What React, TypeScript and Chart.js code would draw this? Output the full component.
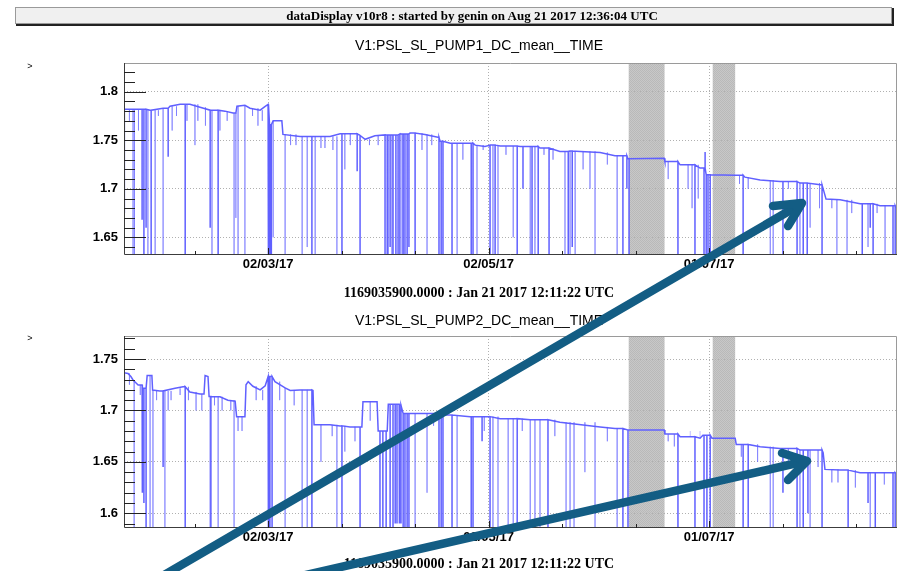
import React, { useEffect, useRef } from 'react';
import { Chart, registerables } from 'chart.js';

Chart.register(...registerables);

// ---- shared time axis: days after Jan 21 2017 12:11:22 UTC ----
const dayRange = [0, 213.5];
const timeTickDays = [19.5, 39.8, 60.1, 80.4, 100.7, 121.0, 141.3, 161.6, 181.9, 202.2];
const timeTickLabels = ['', '02/03/17', '', '', '02/05/17', '', '', '01/07/17', '', ''];

// shaded periods with no data
const offlineStart = [139.4, 162.6];
const offlineEnd = [149.3, 168.8];

// ---- V1:PSL_SL_PUMP1_DC_mean ----
const pump1Range = [1.6318, 1.8296];
const pump1YLabels = ['1.65', '1.7', '1.75', '1.8'];
const pump1Days = [0.0, 2.5, 7.2, 10.8, 12.7, 15.5, 18.2, 21.0, 23.8, 27.9, 30.1, 30.9, 31.2, 33.4, 34.8, 37.6, 39.0, 39.8, 40.2, 41.2, 43.6, 43.9, 48.6, 51.4, 56.9, 59.7, 63.8, 65.2, 66.6, 69.3, 72.1, 76.2, 79.0, 83.1, 86.7, 87.3, 90.1, 94.2, 97.0, 99.7, 101.1, 103.9, 109.4, 114.9, 120.4, 123.2, 126.0, 131.5, 135.6, 139.2, 149.2, 149.4, 153.6, 159.1, 160.2, 160.8, 168.8, 171.5, 175.7, 181.2, 186.7, 192.8, 193.9, 197.8, 203.3, 208.8, 213.3];
const pump1Level = [1.782, 1.782, 1.781, 1.783, 1.785, 1.787, 1.787, 1.784, 1.781, 1.780, 1.778, 1.778, 1.785, 1.786, 1.783, 1.781, 1.785, 1.787, 1.766, 1.770, 1.770, 1.756, 1.754, 1.754, 1.754, 1.7567, 1.7567, 1.755, 1.751, 1.7546, 1.7555, 1.7565, 1.7574, 1.756, 1.753, 1.749, 1.747, 1.747, 1.745, 1.7436, 1.745, 1.744, 1.7436, 1.742, 1.7385, 1.739, 1.7385, 1.7374, 1.734, 1.731, 1.7315, 1.728, 1.7247, 1.7213, 1.7213, 1.7144, 1.714, 1.712, 1.709, 1.7075, 1.7059, 1.704, 1.6894, 1.6886, 1.6845, 1.6825, 1.680];
const pump1DropDays = [0.1, 5.0, 5.5, 6.1, 7.5, 12.2, 16.9, 23.8, 26.0, 39.9, 40.3, 40.7, 51.9, 60.2, 64.4, 65.2, 72.1, 72.7, 73.5, 74.3, 75.1, 75.7, 76.2, 77.1, 77.6, 78.2, 78.7, 80.4, 87.0, 87.6, 88.1, 90.6, 95.9, 96.4, 101.1, 102.5, 108.6, 110.2, 112.7, 114.4, 117.4, 122.7, 123.8, 137.8, 138.9, 139.5, 153.0, 157.7, 160.2, 160.5, 160.8, 161.3, 161.9, 171.0, 182.0, 185.9, 187.6, 188.7, 192.8, 203.9, 206.1, 206.9, 212.4, 213.0];
const pump1DropLow = [1.675, 1.668, 1.60, 1.66, 1.60, 1.733, 1.60, 1.66, 1.60, 1.60, 1.60, 1.60, 1.60, 1.60, 1.718, 1.60, 1.60, 1.60, 1.64, 1.60, 1.60, 1.60, 1.60, 1.60, 1.60, 1.60, 1.64, 1.60, 1.60, 1.60, 1.62, 1.60, 1.60, 1.60, 1.60, 1.60, 1.60, 1.70, 1.60, 1.60, 1.60, 1.60, 1.64, 1.60, 1.70, 1.60, 1.60, 1.60, 1.60, 1.738, 1.60, 1.60, 1.60, 1.60, 1.60, 1.60, 1.60, 1.60, 1.60, 1.60, 1.66, 1.60, 1.60, 1.60];
const pump1FaintDays = [1.5, 2.5, 2.9, 4.0, 6.6, 8.6, 9.5, 10.8, 13.3, 14.5, 17.4, 19.6, 20.4, 22.5, 24.3, 26.5, 28.5, 30.4, 30.9, 31.5, 33.4, 35.5, 37.0, 38.2, 41.2, 44.5, 46.0, 47.5, 49.2, 50.6, 52.8, 54.4, 55.5, 57.7, 58.8, 61.0, 62.5, 67.8, 70.2, 73.0, 74.0, 76.8, 82.3, 83.7, 85.0, 92.0, 93.6, 97.5, 99.2, 101.9, 103.3, 105.5, 107.5, 112.2, 113.5, 116.0, 118.5, 121.8, 123.2, 124.6, 126.8, 128.7, 130.1, 133.5, 136.2, 150.3, 155.8, 156.9, 158.6, 170.0, 172.4, 178.5, 179.3, 183.5, 186.7, 189.5, 192.1, 195.5, 196.9, 199.7, 201.0, 205.5, 208.0, 210.2];
const pump1FaintLow = [1.77, 1.60, 1.60, 1.76, 1.60, 1.60, 1.775, 1.60, 1.76, 1.775, 1.77, 1.745, 1.77, 1.765, 1.60, 1.76, 1.77, 1.60, 1.67, 1.60, 1.60, 1.775, 1.765, 1.77, 1.65, 1.60, 1.745, 1.745, 1.60, 1.64, 1.60, 1.742, 1.742, 1.74, 1.60, 1.72, 1.745, 1.745, 1.745, 1.60, 1.60, 1.60, 1.74, 1.60, 1.745, 1.60, 1.73, 1.62, 1.74, 1.60, 1.60, 1.735, 1.65, 1.60, 1.60, 1.735, 1.73, 1.60, 1.62, 1.60, 1.72, 1.70, 1.60, 1.725, 1.60, 1.71, 1.70, 1.68, 1.69, 1.705, 1.70, 1.60, 1.60, 1.70, 1.60, 1.66, 1.68, 1.68, 1.60, 1.62, 1.675, 1.64, 1.675, 1.60];

// ---- V1:PSL_SL_PUMP2_DC_mean ----
const pump2Range = [1.5857, 1.7724];
const pump2YLabels = ['1.6', '1.65', '1.7', '1.75'];
const pump2Days = [0.0, 1.1, 1.9, 2.5, 3.9, 5.2, 6.1, 6.4, 7.7, 7.9, 9.9, 14.1, 16.3, 18.2, 21.0, 22.1, 22.4, 23.2, 23.5, 26.5, 28.7, 30.7, 31.1, 33.4, 33.7, 34.3, 35.6, 37.6, 39.0, 39.8, 41.7, 44.5, 45.9, 48.6, 52.2, 52.5, 56.9, 59.7, 62.4, 65.7, 66.0, 69.9, 70.2, 72.7, 73.0, 76.2, 77.1, 87.3, 95.6, 103.9, 112.2, 120.4, 131.5, 135.6, 139.2, 149.2, 149.4, 153.6, 159.1, 159.9, 162.4, 168.8, 169.1, 175.7, 181.2, 186.7, 193.1, 193.6, 197.8, 203.3, 213.3];
const pump2Level = [1.7367, 1.736, 1.733, 1.7296, 1.7247, 1.7215, 1.7215, 1.734, 1.734, 1.7198, 1.719, 1.7215, 1.723, 1.718, 1.716, 1.716, 1.734, 1.733, 1.7135, 1.7133, 1.710, 1.709, 1.694, 1.694, 1.725, 1.728, 1.7235, 1.720, 1.724, 1.733, 1.728, 1.722, 1.7195, 1.720, 1.7195, 1.686, 1.686, 1.685, 1.684, 1.684, 1.7085, 1.7085, 1.680, 1.680, 1.706, 1.705, 1.697, 1.6955, 1.694, 1.692, 1.691, 1.6885, 1.684, 1.6825, 1.681, 1.681, 1.677, 1.6744, 1.673, 1.676, 1.673, 1.673, 1.667, 1.6647, 1.6631, 1.6615, 1.659, 1.6427, 1.642, 1.6394, 1.638];
const pump2DropDays = [0.1, 5.0, 5.5, 6.1, 10.8, 16.9, 24.0, 39.9, 40.3, 40.9, 51.9, 60.2, 65.2, 70.7, 71.5, 72.4, 73.5, 74.3, 74.9, 75.4, 76.0, 76.5, 77.1, 77.6, 78.2, 78.7, 87.0, 87.6, 88.1, 90.6, 95.9, 96.4, 98.9, 101.1, 108.6, 117.1, 137.8, 139.2, 153.0, 157.7, 160.2, 161.0, 161.9, 171.0, 172.4, 182.0, 185.9, 187.6, 188.9, 192.8, 200.0, 205.5, 207.5, 212.4, 213.0];
const pump2DropLow = [1.632, 1.62, 1.61, 1.55, 1.645, 1.55, 1.55, 1.55, 1.55, 1.55, 1.55, 1.55, 1.55, 1.55, 1.55, 1.55, 1.55, 1.55, 1.59, 1.59, 1.59, 1.59, 1.55, 1.55, 1.55, 1.55, 1.55, 1.55, 1.55, 1.55, 1.55, 1.55, 1.67, 1.55, 1.55, 1.55, 1.55, 1.55, 1.55, 1.55, 1.55, 1.55, 1.55, 1.55, 1.55, 1.62, 1.55, 1.55, 1.60, 1.55, 1.55, 1.61, 1.55, 1.55, 1.55];
const pump2FaintDays = [1.5, 2.8, 4.5, 7.2, 8.0, 9.0, 11.3, 12.2, 13.0, 15.5, 17.8, 19.9, 21.5, 23.8, 25.0, 26.0, 27.1, 29.5, 30.4, 31.5, 32.6, 36.5, 38.3, 43.0, 44.5, 47.0, 49.2, 50.6, 54.4, 57.5, 58.8, 61.0, 63.8, 68.0, 80.4, 83.7, 85.5, 92.0, 99.5, 101.9, 103.3, 106.1, 107.5, 110.0, 112.2, 113.5, 114.9, 119.0, 122.1, 123.2, 124.3, 127.3, 130.1, 133.5, 136.2, 150.3, 152.0, 156.4, 159.1, 170.5, 175.0, 178.5, 179.3, 183.5, 186.7, 189.5, 191.7, 195.5, 197.2, 202.0, 206.1, 210.0];
const pump2FaintLow = [1.725, 1.55, 1.715, 1.55, 1.55, 1.71, 1.55, 1.70, 1.71, 1.715, 1.71, 1.70, 1.70, 1.55, 1.705, 1.55, 1.70, 1.70, 1.55, 1.68, 1.68, 1.71, 1.71, 1.71, 1.55, 1.705, 1.55, 1.55, 1.65, 1.675, 1.55, 1.66, 1.67, 1.69, 1.55, 1.62, 1.685, 1.55, 1.68, 1.55, 1.55, 1.55, 1.55, 1.68, 1.55, 1.55, 1.55, 1.675, 1.55, 1.55, 1.55, 1.64, 1.55, 1.67, 1.55, 1.67, 1.665, 1.68, 1.68, 1.655, 1.65, 1.55, 1.55, 1.65, 1.55, 1.55, 1.645, 1.63, 1.63, 1.625, 1.55, 1.628];

const LINE = 'rgb(96,96,255)';
const LINE_FAINT = 'rgba(96,96,255,0.4)';
const SANS = '"Liberation Sans", Arial, sans-serif';
const SERIF = '"Liberation Serif", "Times New Roman", serif';

type Pt = { x: number; y: number | null };

// level of the most recent reading at or before day d
function levelAt(days: number[], vals: number[], d: number) {
  let v = vals[0];
  for (let i = 0; i < days.length && days[i] <= d; i++) v = vals[i];
  return v;
}

// trend line with the dropouts drawn as vertical excursions from the current level
function mainSeries(days: number[], vals: number[], dDays: number[], dLow: number[]): Pt[] {
  const events = [
    ...days.map((d, i) => ({ d, k: 0, i })),
    ...dDays.map((d, i) => ({ d, k: 1, i })),
  ].sort((a, b) => a.d - b.d || a.k - b.k);
  const pts: Pt[] = [];
  for (const e of events) {
    if (e.k === 0) pts.push({ x: e.d, y: vals[e.i] });
    else {
      const lv = levelAt(days, vals, e.d);
      pts.push({ x: e.d, y: lv }, { x: e.d, y: dLow[e.i] }, { x: e.d, y: lv });
    }
  }
  return pts;
}

function faintSeries(days: number[], vals: number[], fDays: number[], fLow: number[]): Pt[] {
  const pts: Pt[] = [];
  fDays.forEach((d, i) => {
    const lv = levelAt(days, vals, d);
    pts.push({ x: d, y: lv }, { x: d, y: fLow[i] }, { x: d, y: null });
  });
  return pts;
}

function yTickValues(lo: number, hi: number) {
  const out: number[] = [];
  for (let k = Math.ceil(lo * 100 - 1e-6); k <= Math.floor(hi * 100 + 1e-6); k++) out.push(k / 100);
  return out;
}

let hatchCache: CanvasPattern | null = null;
function hatch(ctx: CanvasRenderingContext2D) {
  if (!hatchCache) {
    const c = document.createElement('canvas');
    c.width = 2;
    c.height = 2;
    const g = c.getContext('2d')!;
    g.fillStyle = '#c8c8c8';
    g.fillRect(0, 0, 2, 2);
    g.fillStyle = '#b9b9b9';
    g.fillRect(0, 0, 1, 1);
    g.fillRect(1, 1, 1, 1);
    hatchCache = ctx.createPattern(c, 'repeat');
  }
  return hatchCache!;
}

const isMajor = (v: number, majors: number[]) => majors.some((m) => Math.abs(m - v) < 1e-6);

const rootFrame = {
  id: 'rootFrame',
  beforeDraw(chart: any) {
    const { ctx, chartArea: a } = chart;
    const x = chart.scales.x;
    ctx.save();
    ctx.fillStyle = hatch(ctx);
    offlineStart.forEach((s, i) => {
      const x0 = x.getPixelForValue(s);
      const x1 = x.getPixelForValue(offlineEnd[i]);
      ctx.fillRect(x0, a.top, x1 - x0, a.bottom - a.top);
    });
    ctx.restore();
  },
  afterDatasetsDraw(chart: any, _args: any, opts: any) {
    const { ctx, chartArea: a } = chart;
    const { x, y } = chart.scales;
    const majors: number[] = opts.yMajor;
    ctx.save();
    ctx.lineWidth = 1;
    ctx.strokeStyle = '#9a9a9a';
    ctx.beginPath();
    ctx.moveTo(a.left, a.top + 0.5);
    ctx.lineTo(a.right - 0.5, a.top + 0.5);
    ctx.lineTo(a.right - 0.5, a.bottom);
    ctx.stroke();
    ctx.strokeStyle = '#3c3c3c';
    ctx.beginPath();
    ctx.moveTo(a.left + 0.5, a.top);
    ctx.lineTo(a.left + 0.5, a.bottom - 0.5);
    ctx.lineTo(a.right, a.bottom - 0.5);
    ctx.stroke();
    ctx.strokeStyle = '#222';
    ctx.beginPath();
    y.ticks.forEach((t: any) => {
      const py = Math.round(y.getPixelForValue(t.value)) + 0.5;
      const len = isMajor(t.value, majors) ? 22 : 11;
      ctx.moveTo(a.left, py);
      ctx.lineTo(a.left + len, py);
    });
    x.ticks.forEach((t: any, i: number) => {
      const px = Math.round(x.getPixelForValue(t.value)) + 0.5;
      const len = timeTickLabels[i] ? 7 : 4;
      ctx.moveTo(px, a.bottom);
      ctx.lineTo(px, a.bottom - len);
    });
    ctx.stroke();
    ctx.restore();
  },
};

type PanelProps = {
  top: number;
  height: number;
  padTop: number;
  xAxisH: number;
  range: number[];
  yLabels: string[];
  days: number[];
  level: number[];
  dropDays: number[];
  dropLow: number[];
  faintDays: number[];
  faintLow: number[];
};

function Panel(p: PanelProps) {
  const ref = useRef<HTMLCanvasElement>(null);
  useEffect(() => {
    const majors = p.yLabels.map(Number);
    const chart = new Chart(ref.current!, {
      type: 'line',
      data: {
        datasets: [
          {
            data: faintSeries(p.days, p.level, p.faintDays, p.faintLow) as any,
            borderColor: LINE_FAINT,
            borderWidth: 1,
            pointRadius: 0,
            spanGaps: false,
          },
          {
            data: mainSeries(p.days, p.level, p.dropDays, p.dropLow) as any,
            borderColor: LINE,
            borderWidth: 1.5,
            pointRadius: 0,
          },
        ],
      },
      options: {
        animation: false,
        responsive: false,
        devicePixelRatio: 1,
        events: [],
        layout: { padding: { top: p.padTop, right: 1, left: 0, bottom: 0 } },
        plugins: {
          legend: { display: false },
          title: { display: false },
          tooltip: { enabled: false },
          rootFrame: { yMajor: majors },
        } as any,
        scales: {
          x: {
            type: 'linear',
            min: dayRange[0],
            max: dayRange[1],
            afterBuildTicks: (s: any) => {
              s.ticks = timeTickDays.map((v) => ({ value: v }));
            },
            afterFit: (s: any) => {
              s.height = p.xAxisH;
            },
            ticks: {
              autoSkip: false,
              maxRotation: 0,
              minRotation: 0,
              padding: 2,
              color: '#000',
              font: { family: SANS, size: 13, weight: 'bold' },
              callback: (_v: any, i: number) => timeTickLabels[i],
            },
            grid: {
              drawTicks: false,
              lineWidth: 1,
              color: (c: any) => (timeTickLabels[c.index] ? '#b0b0b0' : 'rgba(0,0,0,0)'),
            },
            border: { display: false, dash: [1, 2] },
          },
          y: {
            type: 'linear',
            min: p.range[0],
            max: p.range[1],
            afterBuildTicks: (s: any) => {
              s.ticks = yTickValues(p.range[0], p.range[1]).map((v) => ({ value: v }));
            },
            afterFit: (s: any) => {
              s.width = 124;
            },
            ticks: {
              autoSkip: false,
              padding: 6,
              color: '#000',
              font: { family: SANS, size: 13, weight: 'bold' },
              callback: (v: any) => {
                const k = majors.findIndex((m) => Math.abs(m - v) < 1e-6);
                return k >= 0 ? p.yLabels[k] : '';
              },
            },
            grid: {
              drawTicks: false,
              lineWidth: 1,
              color: (c: any) => (isMajor(c.tick.value, majors) ? '#b0b0b0' : 'rgba(0,0,0,0)'),
            },
            border: { display: false, dash: [1, 2] },
          },
        },
      },
      plugins: [rootFrame],
    });
    return () => chart.destroy();
  }, []);
  return (
    <canvas
      ref={ref}
      width={898}
      height={p.height}
      style={{ position: 'absolute', left: 0, top: p.top, width: 898, height: p.height, display: 'block' }}
    />
  );
}

const ARROW = '#135d84';

export default function App() {
  return (
    <div style={{ position: 'absolute', left: 0, top: 0, width: 898, height: 571, background: '#fff', overflow: 'hidden' }}>
      <Panel
        top={40}
        height={240}
        padTop={23}
        xAxisH={25}
        range={pump1Range}
        yLabels={pump1YLabels}
        days={pump1Days}
        level={pump1Level}
        dropDays={pump1DropDays}
        dropLow={pump1DropLow}
        faintDays={pump1FaintDays}
        faintLow={pump1FaintLow}
      />
      <Panel
        top={310}
        height={240}
        padTop={26}
        xAxisH={22}
        range={pump2Range}
        yLabels={pump2YLabels}
        days={pump2Days}
        level={pump2Level}
        dropDays={pump2DropDays}
        dropLow={pump2DropLow}
        faintDays={pump2FaintDays}
        faintLow={pump2FaintLow}
      />
      <svg width={898} height={571} style={{ position: 'absolute', left: 0, top: 0, pointerEvents: 'none' }}>
        <rect x={15.5} y={7.5} width={876} height={16} fill="#f0f0f0" stroke="#9a9a9a" strokeWidth={1} />
        <line x1={16} y1={25} x2={894} y2={25} stroke="#222" strokeWidth={2} />
        <line x1={893} y1={8} x2={893} y2={26} stroke="#222" strokeWidth={2} />
        <text x={472} y={20} textAnchor="middle" fontFamily={SERIF} fontWeight="bold" fontSize={13} fill="#000">
          dataDisplay v10r8 : started by genin on Aug 21 2017 12:36:04 UTC
        </text>

        <text x={479} y={50} textAnchor="middle" fontFamily={SANS} fontSize={14} fill="#000">
          V1:PSL_SL_PUMP1_DC_mean__TIME
        </text>
        <text x={30} y={69} textAnchor="middle" fontFamily={SANS} fontSize={9} fill="#000">&gt;</text>
        <text x={479} y={297} textAnchor="middle" fontFamily={SERIF} fontWeight="bold" fontSize={14} fill="#000">
          1169035900.0000 : Jan 21 2017 12:11:22 UTC
        </text>

        <text x={479} y={325} textAnchor="middle" fontFamily={SANS} fontSize={14} fill="#000">
          V1:PSL_SL_PUMP2_DC_mean__TIME
        </text>
        <text x={30} y={341} textAnchor="middle" fontFamily={SANS} fontSize={9} fill="#000">&gt;</text>
        <text x={479} y={568} textAnchor="middle" fontFamily={SERIF} fontWeight="bold" fontSize={14} fill="#000">
          1169035900.0000 : Jan 21 2017 12:11:22 UTC
        </text>

        <g stroke={ARROW} strokeWidth={8.5} fill="none" strokeLinecap="round" strokeLinejoin="round">
          <line x1={147} y1={585} x2={801} y2={204} />
          <polyline points="773,206 802,203 788,226" />
          <line x1={275} y1={582} x2={806} y2={461} />
          <polyline points="782,453 807,461 788,480" />
        </g>
      </svg>
    </div>
  );
}
